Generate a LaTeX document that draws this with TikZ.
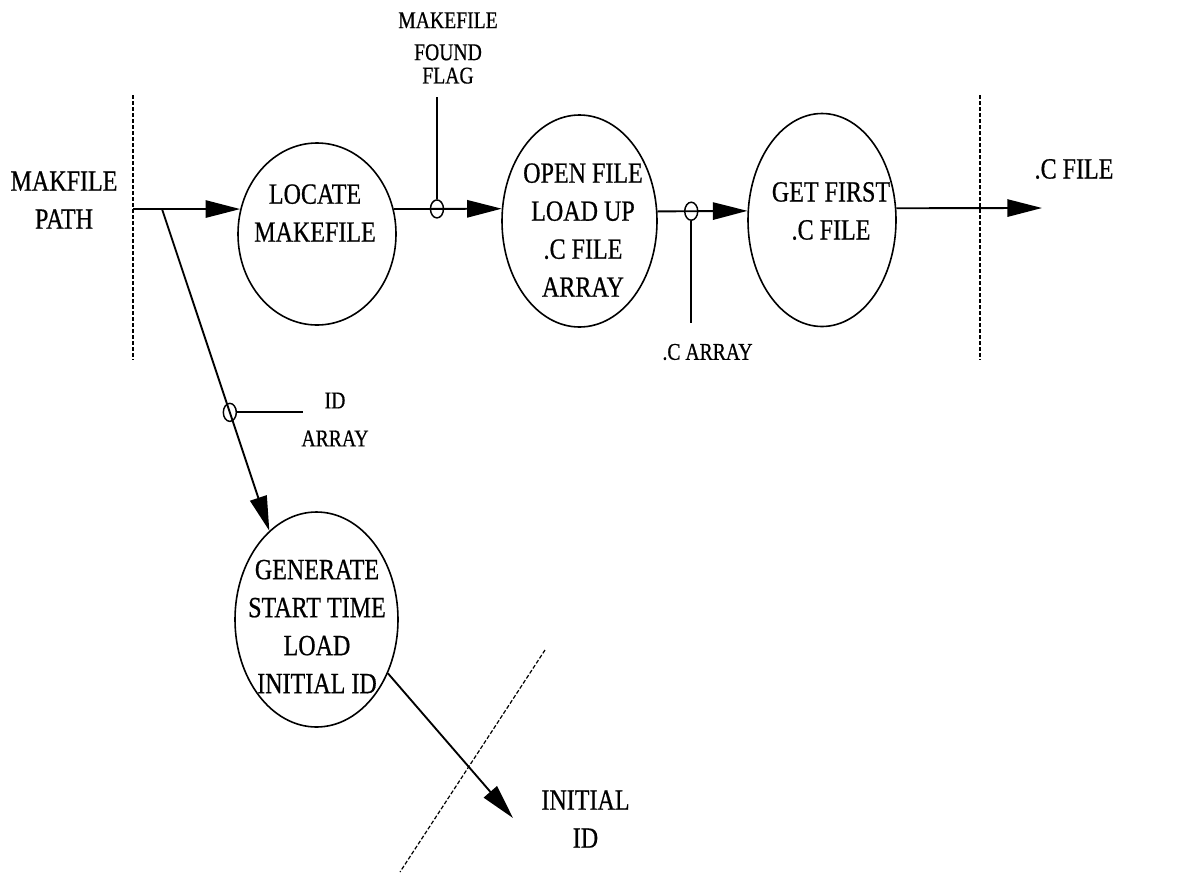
\documentclass[tikz,border=0pt]{standalone}
\usepackage{fontspec}
\setmainfont{Liberation Serif}[FakeStretch=0.82,FakeBold=0.6]
\usetikzlibrary{arrows.meta,shapes.geometric}

\newcommand\bigtxt{\fontsize{22pt}{28.5pt}\selectfont}
\newcommand\smalltxt{\fontsize{18pt}{24pt}\selectfont}

\tikzset{
  process/.style={draw, ellipse, line width=1.2pt, inner sep=0pt},
  lbl/.style={font=\bigtxt, align=center, inner sep=0pt},
  lblsmall/.style={font=\smalltxt, align=center, inner sep=0pt},
  wire/.style={line width=1.4pt},
  flow/.style={wire, -{Triangle[length=26pt,width=13pt]}},
  store/.style={draw, ellipse, line width=1.1pt, minimum width=9.75pt,
                minimum height=13.5pt, inner sep=0pt},
  boundary/.style={line width=0.9pt, dash pattern=on 3pt off 1.5pt},
}

\begin{document}
\begin{tikzpicture}[x=0.75pt,y=-0.75pt]
\useasboundingbox (0,0) rectangle (1181,872);

% processes
\node[process, minimum width=118.5pt, minimum height=136.5pt] (locate) at (317,234) {};
\node[process, minimum width=116.25pt, minimum height=159pt] (open) at (579.5,221) {};
\node[process, minimum width=111pt, minimum height=159.75pt] (get) at (822,220) {};
\node[process, minimum width=122.25pt, minimum height=161.25pt] (gen) at (316.5,619.5) {};

% process texts
\node[lbl] (tlocate) at (315,213) {LOCATE\\MAKEFILE};
\node[lbl] (topen) at (583,230) {OPEN FILE\\LOAD UP\\.C FILE\\ARRAY};
\node[lbl] (tget) at (831,211) {GET FIRST\\.C FILE};
\node[lbl] (tgen) at (317,626.5) {GENERATE\\START TIME\\LOAD\\INITIAL ID};

% external flows
\node[lbl] (tpath) at (64,200) {MAKFILE\\PATH};
\node[lbl] (tcfile) at (1074,169) {.C FILE};
\node[lbl] (tinit) at (585.5,819) {INITIAL\\ID};

% data store labels
\node[lblsmall] (tflag) at (448,48) {MAKEFILE\\FOUND\\[-6.5pt]FLAG};
\node[lblsmall] (tid) at (335,419.5) {ID\\[4.5pt]ARRAY};
\node[lblsmall] (tcarray) at (707.5,352) {.C ARRAY};

% end points
\coordinate (inL) at (133,209);
\coordinate (br) at (162,209);
\coordinate (out) at (1042,208);
\coordinate (out2) at (513,818);
\coordinate (flagend) at (437,97);
\coordinate (carrayend) at (690,323);
\coordinate (idend) at (303,413);

% system boundaries
\coordinate (bl1) at (133,95);
\coordinate (bl2) at (133,360);
\coordinate (br1) at (980,95);
\coordinate (br2) at (980,360);
\coordinate (bd1) at (545,650);
\coordinate (bd2) at (400,872);
\draw[boundary] (bl1) -- (bl2);
\draw[boundary] (br1) -- (br2);
\draw[boundary] (bd1) -- (bd2);

% flows
\draw[flow] (inL) -- (locate.162);
\draw[flow] (locate.18) -- node[store, pos=0.40] (f1) {} (open.171);
\draw[wire] (f1.north) -- (f1.north |- flagend);
\draw[flow] (open.7) -- node[store, pos=0.375] (f2) {} (get.173);
\draw[wire] (f2.south) -- (f2.south |- carrayend);
\draw[flow] (get.9) -- (out);
\draw[flow] (br) -- node[store, pos=0.632] (f3) {} (gen.118);
\draw[wire] (f3.east) -- (f3.east -| idend);
\draw[flow] (gen.-37) -- (out2);
\end{tikzpicture}
\end{document}
